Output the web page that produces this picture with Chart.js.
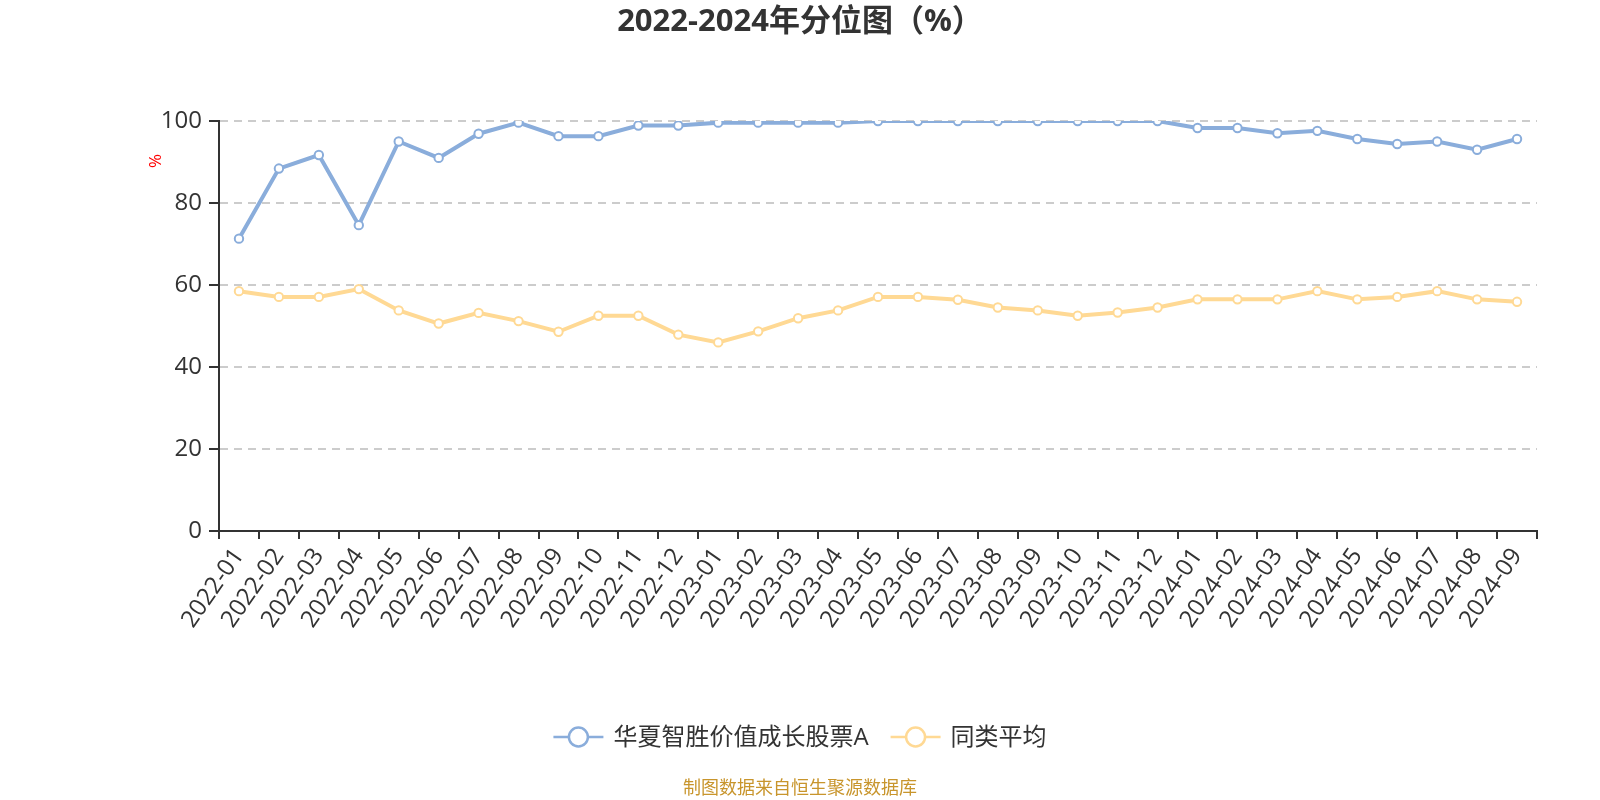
<!DOCTYPE html>
<html>
<head>
<meta charset="utf-8">
<title>2022-2024年分位图（%）</title>
<script src="https://cdn.jsdelivr.net/npm/chart.js@4"></script>
<style>
  html, body { margin: 0; padding: 0; background: #fff; }
  #wrap { width: 1600px; height: 800px; }
</style>
</head>
<body>
<div id="wrap"><canvas id="chart" width="1600" height="800"></canvas></div>
<script>
const months = [
    '2022-01', '2022-02', '2022-03', '2022-04', '2022-05', '2022-06',
    '2022-07', '2022-08', '2022-09', '2022-10', '2022-11', '2022-12',
    '2023-01', '2023-02', '2023-03', '2023-04', '2023-05', '2023-06',
    '2023-07', '2023-08', '2023-09', '2023-10', '2023-11', '2023-12',
    '2024-01', '2024-02', '2024-03', '2024-04', '2024-05', '2024-06',
    '2024-07', '2024-08', '2024-09'
];
const fundValues = [
    71.3, 88.4, 91.7, 74.6, 95.0, 91.0, 96.9, 99.6, 96.3, 96.3, 98.9, 98.9,
    99.6, 99.6, 99.6, 99.6, 100, 100, 100, 100, 100, 100, 100, 100,
    98.3, 98.3, 97.0, 97.6, 95.6, 94.4, 95.0, 93.0, 95.6
];
const peerValues = [
    58.5, 57.1, 57.1, 59.0, 53.8, 50.6, 53.2, 51.2, 48.6, 52.5, 52.5, 47.9,
    46.0, 48.7, 51.9, 53.8, 57.1, 57.1, 56.4, 54.5, 53.8, 52.5, 53.3, 54.5,
    56.5, 56.5, 56.5, 58.5, 56.5, 57.1, 58.5, 56.5, 55.9
];
const seriesNames = ['华夏智胜价值成长股票A', '同类平均'];
const seriesColors = ['#8aaddb', '#ffd994'];
const yTicks = [0, 20, 40, 60, 80, 100];

const chartTitle = '2022-2024年分位图（%）';
const sourceNote = '制图数据来自恒生聚源数据库';
const fontFamily = '"Open Sans", "Noto Sans CJK SC", sans-serif';

// title, unit label, legend and source line
const decorations = {
    id: 'decorations',
    afterDraw(chart) {
        const ctx = chart.ctx;
        ctx.save();

        ctx.fillStyle = '#333';
        ctx.font = 'bold 31px ' + fontFamily;
        ctx.textAlign = 'center';
        ctx.textBaseline = 'middle';
        ctx.fillText(chartTitle, 800, 22);

        ctx.save();
        ctx.translate(156, 161);
        ctx.rotate(-Math.PI / 2);
        ctx.fillStyle = '#ff0000';
        ctx.font = '17px ' + fontFamily;
        ctx.fillText('%', 0, 0);
        ctx.restore();

        // legend: line + hollow circle, then label
        ctx.font = '24px ' + fontFamily;
        const markW = 50, gapText = 10, gapItem = 22;
        const widths = seriesNames.map(n => ctx.measureText(n).width);
        let total = 0;
        widths.forEach((w, i) => { total += markW + gapText + w + (i ? gapItem : 0); });
        let x = 800 - total / 2;
        const ly = 737;
        seriesNames.forEach((name, i) => {
            if (i) x += gapItem;
            ctx.strokeStyle = seriesColors[i];
            ctx.lineWidth = 2.5;
            ctx.beginPath();
            ctx.moveTo(x, ly);
            ctx.lineTo(x + markW, ly);
            ctx.stroke();
            ctx.beginPath();
            ctx.arc(x + markW / 2, ly, 9.5, 0, Math.PI * 2);
            ctx.fillStyle = '#fff';
            ctx.fill();
            ctx.stroke();
            ctx.fillStyle = '#333';
            ctx.textAlign = 'left';
            ctx.fillText(name, x + markW + gapText, ly + 1);
            x += markW + gapText + widths[i];
        });

        ctx.fillStyle = '#c8952c';
        ctx.font = '18px ' + fontFamily;
        ctx.textAlign = 'center';
        ctx.fillText(sourceNote, 800, 789);
        ctx.restore();
    }
};

new Chart(document.getElementById('chart'), {
    type: 'line',
    data: {
        labels: months,
        datasets: [fundValues, peerValues].map((vals, i) => ({
            label: seriesNames[i],
            data: vals,
            borderColor: seriesColors[i],
            backgroundColor: seriesColors[i],
            borderWidth: 4,
            pointRadius: 4.2,
            pointHoverRadius: 4.2,
            pointBorderWidth: 2,
            pointBackgroundColor: '#fff',
            pointBorderColor: seriesColors[i],
            tension: 0
        }))
    },
    options: {
        responsive: false,
        animation: false,
        layout: { padding: { left: 0, right: 63, top: 121, bottom: 139 } },
        plugins: {
            legend: { display: false },
            title: { display: false },
            tooltip: { enabled: false }
        },
        scales: {
            x: {
                offset: true,
                grid: {
                    offset: true,
                    drawOnChartArea: false,
                    drawTicks: true,
                    tickLength: 8,
                    color: '#333',
                    lineWidth: 2
                },
                border: { color: '#333', width: 2 },
                ticks: {
                    autoSkip: false,
                    minRotation: 55,
                    maxRotation: 55,
                    padding: 4,
                    color: '#333',
                    font: { family: fontFamily, size: 24 }
                },
                afterFit(scale) { scale.height = 130; }
            },
            y: {
                min: 0,
                max: 100,
                afterBuildTicks(scale) { scale.ticks = yTicks.map(v => ({ value: v })); },
                grid: {
                    color: ctx => (ctx.tick && ctx.tick.value === 0 ? 'rgba(0,0,0,0)' : '#cccccc'),
                    lineWidth: 2,
                    drawTicks: true,
                    tickLength: 10,
                    tickColor: '#333',
                    tickWidth: 2
                },
                border: { color: '#333', width: 2, dash: [8, 6] },
                ticks: {
                    padding: 7,
                    color: '#333',
                    font: { family: fontFamily, size: 24 }
                },
                afterFit(scale) { scale.width = 219; }
            }
        }
    },
    plugins: [decorations]
});
</script>
</body>
</html>
